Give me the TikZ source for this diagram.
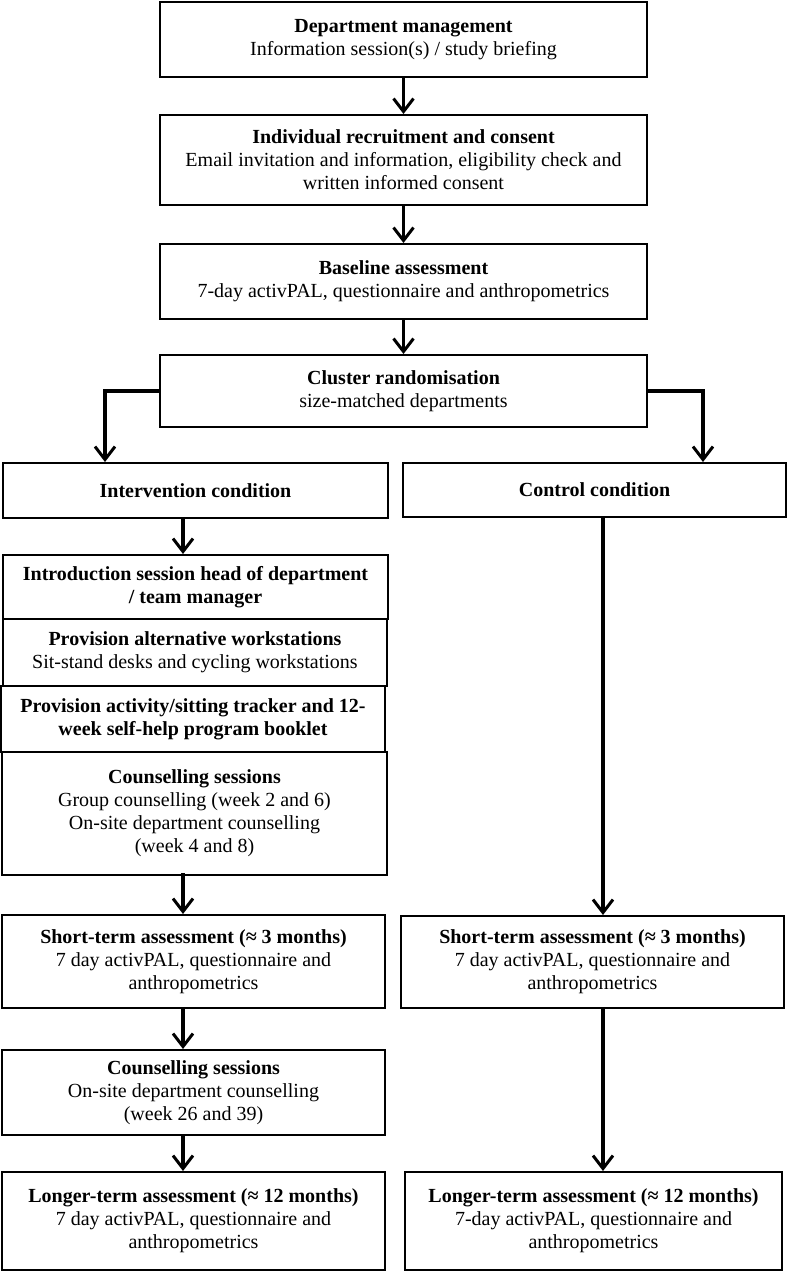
\documentclass[tikz,border=0pt]{standalone}
\usepackage{fontspec}
\setmainfont{Liberation Serif}
\usetikzlibrary{arrows.meta}
\tikzset{
  box/.style={draw, line width=2pt, align=center, inner sep=0pt,
    font=\fontsize{20}{23}\selectfont},
  arr/.style={line width=3.2pt, -{Straight Barb[length=13pt,width=20pt,line width=3pt]}}
}
\begin{document}
\begin{tikzpicture}[x=1pt,y=-1pt]
\useasboundingbox (0,0) rectangle (788,1272);
\node[box, minimum width=487pt, minimum height=75pt] (dm) at (403.5,39.5)
  {\textbf{Department management}\\Information session(s) / study briefing};
\node[box, minimum width=487pt, minimum height=90pt] (rec) at (403.5,160)
  {\textbf{Individual recruitment and consent}\\Email invitation and information, eligibility check and\\written informed consent};
\node[box, minimum width=487pt, minimum height=75pt] (base) at (403.5,281.5)
  {\textbf{Baseline assessment}\\7-day activPAL, questionnaire and anthropometrics};
\node[box, minimum width=487pt, minimum height=72pt] (clu) at (403.5,391)
  {\textbf{Cluster randomisation}\\size-matched departments};
\node[box, minimum width=385pt, minimum height=55pt] (int) at (195.5,490.5)
  {\textbf{Intervention condition}};
\node[box, minimum width=383pt, minimum height=54pt] (con) at (594.5,490)
  {\textbf{Control condition}};
\node[box, minimum width=385pt, minimum height=64pt] (intro) at (195.5,587)
  {\textbf{Introduction session head of department}\\\textbf{/ team manager}};
\node[box, minimum width=384pt, minimum height=67pt] (alt) at (195,652.5)
  {\textbf{Provision alternative workstations}\\Sit-stand desks and cycling workstations};
\node[box, minimum width=384pt, minimum height=66pt] (trk) at (193,719)
  {\textbf{Provision activity/sitting tracker and 12-}\\\textbf{week self-help program booklet}};
\node[box, minimum width=385pt, minimum height=123pt] (cou1) at (194.5,813.5)
  {\textbf{Counselling sessions}\\Group counselling (week 2 and 6)\\On-site department counselling\\(week 4 and 8)};
\node[box, minimum width=383pt, minimum height=93pt] (st1) at (193.5,961.5)
  {\textbf{Short-term assessment (≈ 3 months)}\\7 day activPAL, questionnaire and\\anthropometrics};
\node[box, minimum width=383pt, minimum height=92pt] (st2) at (592.5,962)
  {\textbf{Short-term assessment (≈ 3 months)}\\7 day activPAL, questionnaire and\\anthropometrics};
\node[box, minimum width=383pt, minimum height=85pt] (cou2) at (193.5,1092.5)
  {\textbf{Counselling sessions}\\On-site department counselling\\(week 26 and 39)};
\node[box, minimum width=383pt, minimum height=98pt] (lt1) at (193.5,1221)
  {\textbf{Longer-term assessment (≈ 12 months)}\\7 day activPAL, questionnaire and\\anthropometrics};
\node[box, minimum width=377pt, minimum height=98pt] (lt2) at (593.5,1221)
  {\textbf{Longer-term assessment (≈ 12 months)}\\7-day activPAL, questionnaire and\\anthropometrics};
\coordinate (xA) at (105,0);
\coordinate (xB) at (703,0);
\coordinate (xL) at (183,0);
\coordinate (xR) at (603,0);
\draw[arr] (dm.south) -- (rec.north);
\draw[arr] (rec.south) -- (base.north);
\draw[arr] (base.south) -- (clu.north);
\draw[arr] (clu.west) -| (xA |- int.north);
\draw[arr] (clu.east) -| (xB |- con.north);
\draw[arr] (int.south -| xL) -- (intro.north -| xL);
\draw[arr] ([yshift=3pt]cou1.south -| xL) -- (st1.north -| xL);
\draw[arr] (st1.south -| xL) -- (cou2.north -| xL);
\draw[arr] (cou2.south -| xL) -- (lt1.north -| xL);
\draw[arr] (con.south -| xR) -- (st2.north -| xR);
\draw[arr] (st2.south -| xR) -- (lt2.north -| xR);
\end{tikzpicture}
\end{document}
